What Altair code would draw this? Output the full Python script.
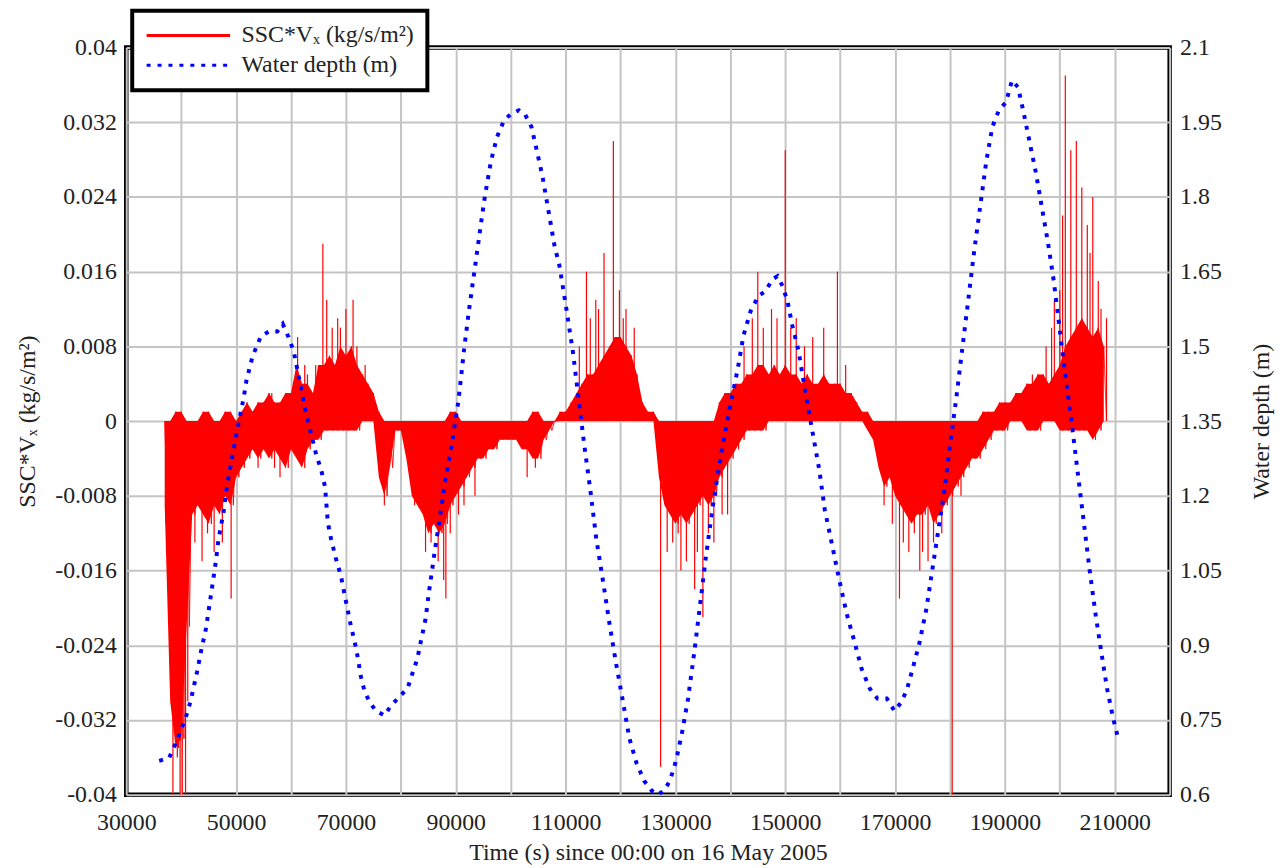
import altair as alt
import pandas as pd

FONT = "Liberation Serif"
FS = 24
SSC_LABEL = "SSC*Vₓ (kg/s/m²)"
DEPTH_LABEL = "Water depth (m)"

# ---------------- water depth (m) ----------------
depth_time = [36000, 37800, 39200, 40800, 41700, 42900, 43600, 44500, 45400, 46300,
              46800, 47700, 48300, 49200, 50100, 51400, 51900, 53000, 54500, 56000,
              57500, 58500, 59500, 60500, 61900, 62600, 63500, 64600, 65500, 66200,
              66700, 67300, 68200, 69100, 69800, 70400, 70900, 71600, 72200, 72700,
              73400, 74300, 75400, 77000, 78100, 79400, 81200, 83000, 84500, 85200,
              86100, 87200, 88100, 89400, 90500, 91500, 92400, 93400, 94400, 95300,
              96400, 97500, 98800, 100000, 101500, 102600, 103800, 104800, 105800, 106900,
              108000, 108900, 110200, 111300, 112400, 113400, 114500, 115600, 116900, 118000,
              119200, 120500, 121600, 122900, 124300, 125700, 126800, 127900, 129000, 130100,
              131200, 132300, 133400, 134400, 135500, 136600, 137700, 138800, 140000, 141300,
              142400, 143700, 145100, 146400, 147700, 148600, 149500, 150400, 151300, 152400,
              153600, 154900, 156200, 157200, 158500, 159800, 161200, 162700, 163900, 165400,
              166800, 168500, 169900, 171000, 172100, 173200, 174400, 175700, 176800, 177900,
              179000, 180000, 181100, 182200, 183300, 184400, 185500, 186600, 187700, 188900,
              190200, 191300, 192400, 193400, 194500, 195600, 196700, 197800, 198900, 199900,
              201000, 202100, 203200, 204300, 205400, 206500, 207600, 208600, 209700, 210600]
depth_m = [0.668, 0.674, 0.708, 0.754, 0.787, 0.847, 0.887, 0.933, 0.999, 1.067,
           1.113, 1.166, 1.218, 1.272, 1.326, 1.398, 1.432, 1.48, 1.52, 1.53,
           1.53, 1.545, 1.52, 1.49, 1.412, 1.372, 1.332, 1.282, 1.252, 1.218,
           1.147, 1.113, 1.073, 1.039, 0.999, 0.967, 0.939, 0.907, 0.873, 0.839,
           0.807, 0.787, 0.769, 0.759, 0.777, 0.793, 0.813, 0.873, 0.953, 1.013,
           1.083, 1.163, 1.232, 1.312, 1.392, 1.492, 1.572, 1.651, 1.731, 1.801,
           1.871, 1.920, 1.954, 1.966, 1.974, 1.966, 1.940, 1.891, 1.841, 1.771,
           1.701, 1.661, 1.571, 1.492, 1.392, 1.302, 1.212, 1.113, 1.023, 0.943,
           0.863, 0.784, 0.714, 0.664, 0.628, 0.608, 0.600, 0.608, 0.628, 0.668,
           0.724, 0.793, 0.883, 0.973, 1.073, 1.163, 1.242, 1.312, 1.382, 1.452,
           1.522, 1.571, 1.601, 1.611, 1.635, 1.641, 1.621, 1.591, 1.541, 1.492,
           1.412, 1.332, 1.252, 1.172, 1.103, 1.033, 0.963, 0.903, 0.853, 0.813,
           0.793, 0.793, 0.768, 0.784, 0.809, 0.853, 0.903, 0.973, 1.053, 1.133,
           1.212, 1.302, 1.392, 1.492, 1.591, 1.691, 1.781, 1.871, 1.940, 1.974,
           1.990, 2.034, 2.020, 1.970, 1.910, 1.851, 1.781, 1.711, 1.631, 1.541,
           1.442, 1.352, 1.252, 1.153, 1.053, 0.963, 0.883, 0.813, 0.754, 0.714]

# ---------------- SSC*Vx (kg/s/m2): per-1000 s envelope of the dense trace, 1e-3 units ----------------
ssc_bin_time = list(range(37000, 209000, 1000))
ssc_hi_milli = [0, 0, 1, 1, 0, 0, 0, 1, 1, 0,
                0, 1, 1, 0, 1, 2, 1, 2, 2, 3,
                2, 2, 3, 3, 6, 4, 4, 3, 6, 6,
                7, 6, 8, 7, 8, 6, 5, 4, 3, 1,
                0, 0, 0, 0, 0, 0, 0, 0, 0, 0,
                0, 0, 1, 1, 0, 0, 0, 0, 0, 0,
                0, 0, 0, 0, 0, 0, 0, 1, 1, 0,
                0, 0, 1, 1, 2, 3, 4, 5, 5, 6,
                7, 8, 9, 9, 8, 7, 5, 2, 1, 1,
                0, 0, 0, 0, 0, 0, 0, 0, 0, 0,
                0, 2, 3, 3, 4, 4, 5, 5, 6, 6,
                5, 6, 5, 6, 5, 5, 4, 5, 4, 4,
                5, 4, 4, 4, 3, 3, 2, 1, 1, 0,
                0, 0, 0, 0, 0, 0, 0, 0, 0, 0,
                0, 0, 0, 0, 0, 0, 0, 0, 0, 1,
                1, 1, 2, 2, 2, 3, 3, 4, 4, 5,
                5, 4, 5, 6, 8, 9, 10, 11, 10, 9,
                10, 8]
ssc_lo_milli = [-9, -30, -35, -34, -22, -10, -9, -10, -11, -9,
                -10, -8, -9, -6, -5, -4, -3, -4, -3, -4,
                -3, -4, -5, -3, -4, -5, -3, -2, -2, -1,
                -1, -1, -1, -1, -1, -1, 0, 0, 0, -6,
                -8, -5, -1, -1, -4, -8, -9, -10, -12, -11,
                -12, -11, -9, -8, -7, -6, -5, -4, -4, -3,
                -3, -2, -2, -2, -2, -3, -3, -4, -4, -2,
                -1, 0, 0, 0, 0, 0, 0, 0, 0, 0,
                0, 0, 0, 0, 0, 0, 0, 0, 0, 0,
                -6, -9, -10, -11, -10, -11, -10, -9, -8, -9,
                -8, -6, -5, -4, -3, -2, -1, -1, -1, -1,
                0, 0, 0, 0, 0, 0, 0, 0, 0, 0,
                0, 0, 0, 0, 0, 0, 0, 0, -1, -2,
                -5, -7, -6, -8, -9, -10, -11, -10, -10, -9,
                -11, -10, -9, -8, -7, -6, -5, -4, -4, -3,
                -2, -1, -1, -1, 0, 0, 0, -1, -1, -1,
                0, 0, 0, -1, -1, -1, -1, -1, -1, -2,
                -1, 0]

# isolated spikes of SSC*Vx (kg/s/m2)
spike_time = [37200, 38500, 39300, 39800, 40200, 40800, 41200, 42500, 43800, 44800,
              46000, 47500, 49100, 54000, 56500, 57000, 58000, 59000, 61200, 62500,
              63000, 64500, 65800, 66500, 67500, 68500, 69000, 70000, 71300, 72000,
              73500, 77000, 82500, 84500, 85500, 86800, 87800, 88200, 89000, 90500,
              91500, 93500, 103000, 104500, 112500, 113800, 114500, 115500, 116000, 117000,
              118700, 119800, 120500, 121000, 122500, 127300, 128500, 129500, 130500, 131000,
              132000, 133500, 134000, 135000, 136000, 137000, 138500, 139500, 142500, 144000,
              145000, 146000, 147500, 148500, 150000, 151000, 152000, 153500, 155000, 157000,
              159500, 161000, 168000, 169500, 170800, 171500, 172500, 173500, 174500, 175000,
              176000, 177000, 178500, 180400, 182000, 195000, 197500, 198500, 199000, 200000,
              200500, 201000, 202000, 203000, 204000, 205000, 205500, 206000, 207000, 207500,
              208500]
spike_value = [-0.011, -0.040, -0.036, -0.040, -0.040, -0.040, -0.030, -0.013, -0.015, -0.012,
               -0.014, -0.013, -0.019, -0.005, 0.003, -0.005, -0.006, -0.005, 0.009, 0.006,
               0.005, 0.006, 0.019, 0.013, 0.010, 0.011, 0.010, 0.012, 0.013, 0.008,
               0.006, -0.009, -0.009, -0.014, -0.013, -0.015, -0.017, -0.019, -0.012, -0.010,
               -0.009, -0.008, -0.006, -0.005, 0.008, 0.016, 0.011, 0.013, 0.012, 0.018,
               0.030, 0.014, 0.011, 0.012, 0.010, -0.037, -0.014, -0.013, -0.012, -0.016,
               -0.015, -0.018, -0.014, -0.021, -0.012, -0.013, -0.010, -0.010, 0.008, 0.011,
               0.016, 0.010, 0.012, 0.011, 0.029, 0.010, 0.011, 0.008, 0.009, 0.010,
               0.016, 0.006, -0.009, -0.011, -0.019, -0.013, -0.014, -0.012, -0.016, -0.014,
               -0.015, -0.013, -0.012, -0.040, -0.008, 0.005, 0.008, 0.010, 0.013, 0.014,
               0.022, 0.037, 0.029, 0.030, 0.025, 0.021, 0.018, 0.024, 0.015, 0.012,
               0.011]

# tick values
x_ticks = [30000, 40000, 50000, 60000, 70000, 80000, 90000, 100000, 110000, 120000,
           130000, 140000, 150000, 160000, 170000, 180000, 190000, 200000, 210000, 220000]
left_ticks = [-0.04, -0.032, -0.024, -0.016, -0.008, 0, 0.008, 0.016, 0.024, 0.032, 0.04]
right_ticks = [0.6, 0.75, 0.9, 1.05, 1.2, 1.35, 1.5, 1.65, 1.8, 1.95, 2.1]

# ---------------- tables ----------------
env_df = pd.DataFrame({
    "t": ssc_bin_time,
    "hi": [h / 1000.0 for h in ssc_hi_milli],
    "lo": [l / 1000.0 for l in ssc_lo_milli],
})
zig_rows = []
for t, h, l in zip(ssc_bin_time, ssc_hi_milli, ssc_lo_milli):
    zig_rows.append({"t": t, "v": h / 1000.0, "series": SSC_LABEL})
    zig_rows.append({"t": t + 500, "v": l / 1000.0, "series": SSC_LABEL})
ssc_df = pd.DataFrame(zig_rows)
spike_df = pd.DataFrame({"t": spike_time, "v": spike_value})
depth_df = pd.DataFrame({"t": depth_time, "d": depth_m, "series": DEPTH_LABEL})

x_scale = alt.Scale(domain=[30000, 220000], nice=False, zero=False)
left_scale = alt.Scale(domain=[-0.04, 0.04], nice=False)
right_scale = alt.Scale(domain=[0.6, 2.1], nice=False, zero=False)
color_scale = alt.Scale(domain=[SSC_LABEL, DEPTH_LABEL], range=["#ff0000", "#0000ff"])
dash_scale = alt.Scale(domain=[SSC_LABEL, DEPTH_LABEL], range=[[1, 0], [4, 7]])

x_axis = alt.Axis(values=x_ticks, title="Time (s) since 00:00 on 16 May 2005",
                  labelExpr="datum.value % 20000 == 10000 ? '' + datum.value : ''",
                  labelFlush=False, labelOverlap=False, labelPadding=16,
                  titleX=525, titleY=58, titleBaseline="middle", titleAlign="center")
left_axis = alt.Axis(values=left_ticks, title=SSC_LABEL, labelExpr="'' + datum.value",
                     labelOverlap=False, labelPadding=10, orient="left",
                     titleX=-99, titleY=376, titleAngle=270, titleAlign="center",
                     titleBaseline="middle")
right_axis = alt.Axis(values=right_ticks, title=DEPTH_LABEL, labelExpr="'' + datum.value",
                      labelOverlap=False, labelPadding=10, orient="right", grid=False,
                      titleX=92, titleY=376, titleAngle=270, titleAlign="center",
                      titleBaseline="middle")

legend = alt.Legend(title=None, orient="none", legendX=6, legendY=-37,
                    symbolType="stroke", symbolSize=7056, symbolStrokeWidth=3,
                    clipHeight=24, labelFont=FONT, labelFontSize=FS, labelColor="#222",
                    labelLimit=400, labelOffset=10, rowPadding=6, padding=13,
                    fillColor="white", strokeColor="black")

x_enc = alt.X("t:Q", scale=x_scale, axis=x_axis)
y_left = alt.Y("v:Q", scale=left_scale, axis=left_axis)

ssc_body = alt.Chart(env_df).mark_area(color="#ff0000", clip=True, interpolate="linear").encode(
    x=x_enc,
    y=alt.Y("lo:Q", scale=left_scale, axis=left_axis),
    y2="hi:Q",
)
ssc_line = alt.Chart(ssc_df).mark_line(strokeWidth=1, clip=True).encode(
    x=x_enc,
    y=y_left,
    color=alt.Color("series:N", scale=color_scale, legend=legend),
    strokeDash=alt.StrokeDash("series:N", scale=dash_scale, legend=legend),
    order=alt.Order("t:Q"),
)
spikes = alt.Chart(spike_df).mark_rule(color="#ff0000", strokeWidth=1.2, clip=True).encode(
    x=x_enc,
    y=y_left,
    y2=alt.datum(0),
)
depth_line = alt.Chart(depth_df).mark_line(strokeWidth=4, clip=True).encode(
    x=x_enc,
    y=alt.Y("d:Q", scale=right_scale, axis=right_axis),
    color=alt.Color("series:N", scale=color_scale, legend=legend),
    strokeDash=alt.StrokeDash("series:N", scale=dash_scale, legend=legend),
)

chart = alt.layer(alt.layer(ssc_body, ssc_line, spikes), depth_line).resolve_scale(
    y="independent"
).properties(
    width=1050, height=752,
    padding={"left": 119, "top": 37, "right": 106, "bottom": 71},
    autosize=alt.AutoSizeParams(type="none"),
    background="white",
).configure_axis(
    labelFont=FONT, labelFontSize=FS, labelColor="#222",
    titleFont=FONT, titleFontSize=FS, titleFontWeight="normal", titleColor="#222",
    gridColor="#c4c4c4", gridWidth=2, domain=False, ticks=False,
).configure_view(
    stroke="black", strokeWidth=4.5,
).configure_legend(
    strokeWidth=4,
)

chart.save("out.html", embed_options={"renderer": "svg", "actions": False})
